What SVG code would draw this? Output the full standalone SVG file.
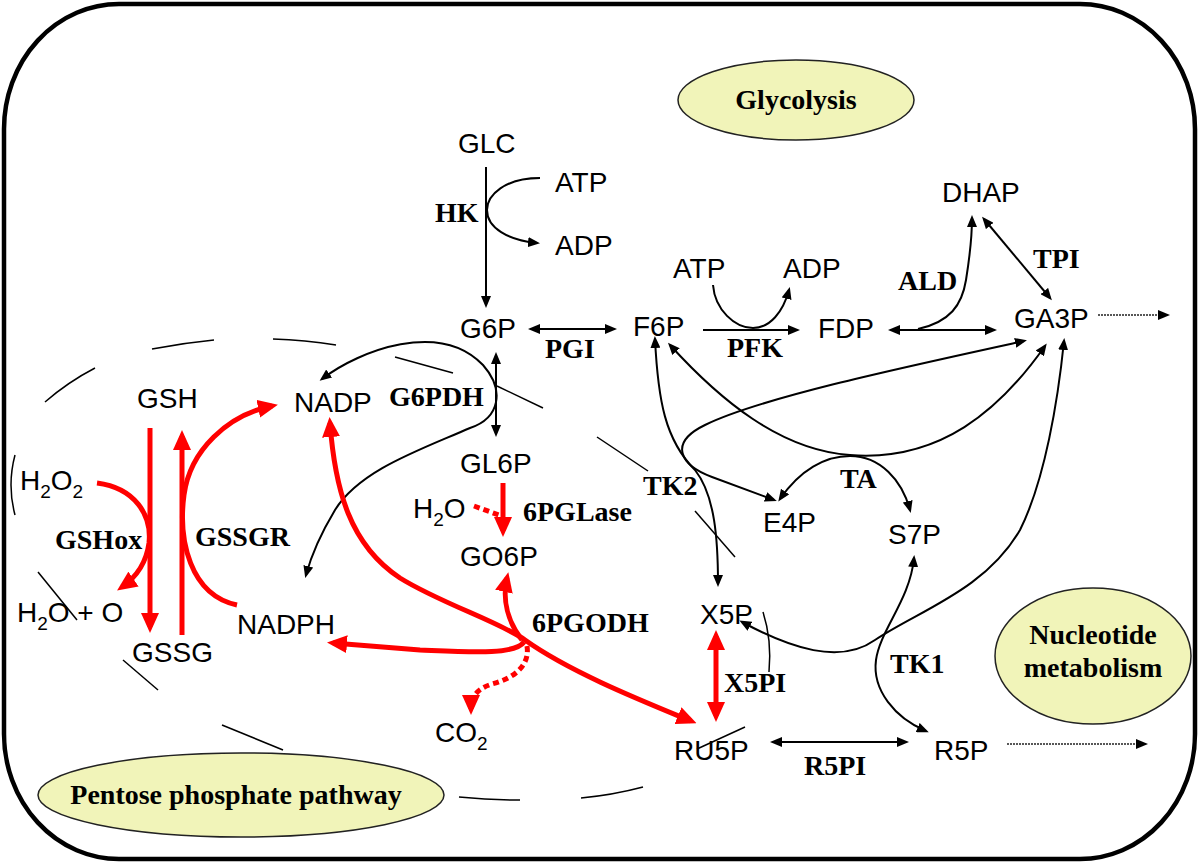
<svg xmlns="http://www.w3.org/2000/svg" width="1200" height="864" viewBox="0 0 1200 864">
<defs>
<style>
.m{font-family:"Liberation Sans",Arial,sans-serif;font-size:28px;fill:#000}
.e{font-family:"Liberation Serif","Times New Roman",serif;font-size:28px;font-weight:bold;fill:#000}
.bk{fill:none;stroke:#000;stroke-width:2}
.rd{fill:none;stroke:#ff0000;stroke-width:5}
.rdd{fill:none;stroke:#ff0000;stroke-width:5;stroke-dasharray:6 4}
.dot{fill:none;stroke:#222;stroke-width:1.6;stroke-dasharray:2 1}
.bd{fill:none;stroke:#000;stroke-width:1.5}
.pool{fill:#f1f4b9;stroke:#222;stroke-width:1.5}
</style>
<marker id="ab" viewBox="0 0 12 10" refX="9" refY="5" markerWidth="12" markerHeight="10" markerUnits="userSpaceOnUse" orient="auto-start-reverse"><path d="M0,0 L12,5 L0,10 z" fill="#000"/></marker>
<marker id="ar" viewBox="0 0 20 18" refX="14" refY="9" markerWidth="20" markerHeight="18" markerUnits="userSpaceOnUse" orient="auto-start-reverse"><path d="M0,0 L20,9 L0,18 z" fill="#ff0000"/></marker>
</defs>
<rect x="0" y="0" width="1200" height="864" fill="#fff"/>
<rect id="frame" x="4" y="4" width="1191" height="855" rx="115" ry="125" fill="none" stroke="#000" stroke-width="4.5"/>

<g id="ppp-boundary" class="bd">
<path d="M15 455 Q7 485 15 515"/>
<path d="M45 402 Q68 382 95 368"/>
<path d="M152 349 Q183 343 214 340"/>
<path d="M273 339 Q305 340 336 345"/>
<path d="M395 357 L453 373"/>
<path d="M497 386 L543 408"/>
<path d="M597 437 L648 471"/>
<path d="M695 511 L735 557"/>
<path d="M763 612 Q772 640 769 672"/>
<path d="M697 749 L745 727"/>
<path d="M581 798 Q613 795 643 787"/>
<path d="M459 797 Q490 800 520 800"/>
<path d="M38 572 L77 620"/>
<path d="M123 660 L158 690"/>
<path d="M222 725 L283 750"/>
</g>

<g id="pool-glycolysis"><ellipse class="pool" cx="796" cy="100" rx="118" ry="40"/><text class="e" x="796" y="109" text-anchor="middle">Glycolysis</text></g>
<g id="pool-ppp"><ellipse class="pool" cx="241" cy="795" rx="203" ry="42"/><text class="e" x="236" y="804" text-anchor="middle">Pentose phosphate pathway</text></g>
<g id="pool-nucleotide"><ellipse class="pool" cx="1093" cy="656" rx="98" ry="68"/><text class="e" x="1093" y="644" text-anchor="middle">Nucleotide</text><text class="e" x="1093" y="677" text-anchor="middle">metabolism</text></g>

<g id="connectors">
<path class="bk" marker-end="url(#ab)" d="M486 167 L486 305"/>
<path class="bk" marker-end="url(#ab)" d="M540 178 C505 178 487 195 487 210 C487 228 508 240 537 243"/>
<path class="bk" marker-start="url(#ab)" marker-end="url(#ab)" d="M531 329 L614 329"/>
<path class="bk" marker-start="url(#ab)" marker-end="url(#ab)" d="M496 355 L496 434"/>
<path class="bk" marker-end="url(#ab)" d="M703 330 L797 330"/>
<path class="bk" marker-end="url(#ab)" d="M713 285 C715 310 735 328 753 328 C770 328 783 312 789 290"/>
<path class="bk" marker-start="url(#ab)" marker-end="url(#ab)" d="M891 330 L994 330"/>
<path class="bk" marker-end="url(#ab)" d="M918 329 C950 322 962 305 966 280 C970 255 972 238 972 218"/>
<path class="bk" marker-start="url(#ab)" marker-end="url(#ab)" d="M984 219 L1050 298"/>
<path class="dot" marker-end="url(#ab)" d="M1098 315 L1167 315"/>
<path class="bk" marker-start="url(#ab)" marker-end="url(#ab)" d="M322 379 C360 350 440 320 483 365 C505 390 500 418 470 428 C420 450 360 470 335 510 C320 535 310 560 306 575"/>
<path class="bk" marker-start="url(#ab)" marker-end="url(#ab)" d="M655 339 C658 400 665 440 695 470 C715 495 718 540 718 584"/>
<path class="bk" marker-start="url(#ab)" marker-end="url(#ab)" d="M1024 341 C900 368 760 398 705 425 C668 443 680 465 712 477 L774 500"/>
<path class="bk" marker-start="url(#ab)" marker-end="url(#ab)" d="M670 345 C720 400 780 450 850 455 C940 462 1000 410 1045 346"/>
<path class="bk" marker-start="url(#ab)" marker-end="url(#ab)" d="M780 499 C800 470 825 456 850 456 C880 456 902 480 910 510"/>
<path class="bk" marker-start="url(#ab)" marker-end="url(#ab)" d="M742 622 C790 648 840 665 875 640 C920 610 985 590 1020 530 C1045 480 1058 400 1064 341"/>
<path class="bk" marker-start="url(#ab)" marker-end="url(#ab)" d="M914 558 C910 600 880 630 876 660 C872 690 895 718 926 731"/>
<path class="bk" marker-start="url(#ab)" marker-end="url(#ab)" d="M773 742 L906 742"/>
<path class="dot" marker-end="url(#ab)" d="M1007 744 L1145 744"/>

<path class="rd" marker-end="url(#ar)" d="M150 428 L150 627"/>
<path class="rd" marker-end="url(#ar)" d="M182 635 L182 436"/>
<path class="rd" marker-end="url(#ar)" d="M97 483 C135 488 152 515 149 543 C146 565 135 578 122 587"/>
<path class="rd" marker-end="url(#ar)" d="M237 605 C190 595 178 540 184 495 C190 450 228 415 272 406"/>
<path class="rd" marker-start="url(#ar)" marker-end="url(#ar)" d="M330 423 C335 490 350 545 400 578 C440 603 500 622 525 640 C570 672 640 700 691 721"/>
<path class="rd" marker-end="url(#ar)" d="M522 640 C508 622 502 600 507 578"/>
<path class="rd" marker-end="url(#ar)" d="M524 642 C515 655 470 652 420 650 L333 643"/>
<path class="rdd" marker-end="url(#ar)" d="M527 646 C530 665 515 678 492 684 C476 689 471 698 471 709"/>
<path class="rd" marker-end="url(#ar)" d="M503 483 L503 531"/>
<path class="rdd" d="M474 506 L499 515"/>
<path class="rd" marker-start="url(#ar)" marker-end="url(#ar)" d="M716 636 L716 716"/>
</g>

<g id="n-GLC"><text class="m" x="458" y="153">GLC</text></g>
<g id="n-ATP1"><text class="m" x="555" y="192">ATP</text></g>
<g id="n-ADP1"><text class="m" x="555" y="255">ADP</text></g>
<g id="e-HK"><text class="e" x="435" y="222">HK</text></g>
<g id="n-ATP2"><text class="m" x="673" y="278">ATP</text></g>
<g id="n-ADP2"><text class="m" x="783" y="278">ADP</text></g>
<g id="n-DHAP"><text class="m" x="942" y="202">DHAP</text></g>
<g id="e-TPI"><text class="e" x="1033" y="268">TPI</text></g>
<g id="e-ALD"><text class="e" x="898" y="290">ALD</text></g>
<g id="n-G6P"><text class="m" x="460" y="338">G6P</text></g>
<g id="e-PGI"><text class="e" x="545" y="358">PGI</text></g>
<g id="n-F6P"><text class="m" x="633" y="336">F6P</text></g>
<g id="e-PFK"><text class="e" x="727" y="357">PFK</text></g>
<g id="n-FDP"><text class="m" x="818" y="338">FDP</text></g>
<g id="n-GA3P"><text class="m" x="1014" y="328">GA3P</text></g>
<g id="n-GSH"><text class="m" x="137" y="408">GSH</text></g>
<g id="n-NADP"><text class="m" x="294" y="412">NADP</text></g>
<g id="e-G6PDH"><text class="e" x="389" y="406">G6PDH</text></g>
<g id="n-GL6P"><text class="m" x="460" y="473">GL6P</text></g>
<g id="n-H2O2"><text class="m" x="20" y="490">H<tspan font-size="19" dy="8">2</tspan><tspan dy="-8">O</tspan><tspan font-size="19" dy="8">2</tspan></text></g>
<g id="n-H2O"><text class="m" x="413" y="518">H<tspan font-size="19" dy="8">2</tspan><tspan dy="-8">O</tspan></text></g>
<g id="e-6PGLase"><text class="e" x="523" y="521">6PGLase</text></g>
<g id="e-GSHox"><text class="e" x="55" y="549">GSHox</text></g>
<g id="e-GSSGR"><text class="e" x="195" y="546">GSSGR</text></g>
<g id="e-TK2"><text class="e" x="643" y="495">TK2</text></g>
<g id="e-TA"><text class="e" x="840" y="488">TA</text></g>
<g id="n-E4P"><text class="m" x="763" y="532">E4P</text></g>
<g id="n-S7P"><text class="m" x="888" y="544">S7P</text></g>
<g id="n-GO6P"><text class="m" x="460" y="566">GO6P</text></g>
<g id="n-H2O-O"><text class="m" x="17" y="622">H<tspan font-size="19" dy="8">2</tspan><tspan dy="-8">O + O</tspan></text></g>
<g id="n-NADPH"><text class="m" x="237" y="634">NADPH</text></g>
<g id="n-GSSG"><text class="m" x="132" y="662">GSSG</text></g>
<g id="e-6PGODH"><text class="e" x="532" y="632">6PGODH</text></g>
<g id="n-X5P"><text class="m" x="700" y="624">X5P</text></g>
<g id="e-X5PI"><text class="e" x="724" y="692">X5PI</text></g>
<g id="e-TK1"><text class="e" x="890" y="673">TK1</text></g>
<g id="n-CO2"><text class="m" x="435" y="742">CO<tspan font-size="19" dy="8">2</tspan></text></g>
<g id="n-RU5P"><text class="m" x="674" y="760">RU5P</text></g>
<g id="e-R5PI"><text class="e" x="804" y="775">R5PI</text></g>
<g id="n-R5P"><text class="m" x="934" y="760">R5P</text></g>
</svg>
